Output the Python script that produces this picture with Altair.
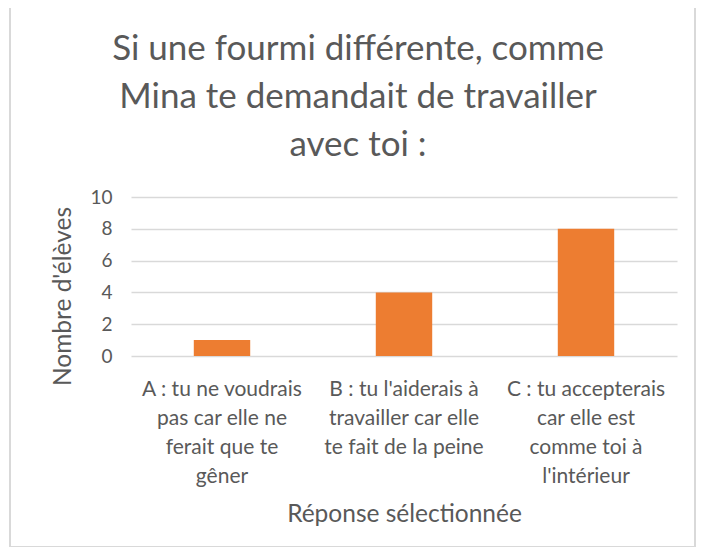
import altair as alt
import pandas as pd

categories = [
    "A : tu ne voudrais|pas car elle ne|ferait que te|gêner",
    "B : tu l'aiderais à|travailler car elle|te fait de la peine",
    "C : tu accepterais|car elle est|comme toi à|l'intérieur",
]
values = [1, 4, 8]
title_lines = ["Si une fourmi différente, comme", "Mina te demandait de travailler", "avec toi :"]
y_title = "Nombre d'élèves"
x_title = "Réponse sélectionnée"

df = pd.DataFrame({"cat": categories, "val": values})

FONT = "Lato"
GREY = "#595959"

bars = alt.Chart(df).mark_bar(color="#ED7D31").encode(
    x=alt.X(
        "cat:N",
        sort=categories,
        scale=alt.Scale(paddingInner=0.69, paddingOuter=0.345),
        axis=alt.Axis(
            title=x_title,
            labelAngle=0,
            labelExpr="split(datum.label, '|')",
            labelLineHeight=29,
            labelFontSize=21,
            labelColor=GREY,
            labelFont=FONT,
            labelPadding=22,
            ticks=False,
            domain=False,
            grid=False,
            titleFontSize=24.5,
            titleFontWeight="normal",
            titleColor=GREY,
            titleFont=FONT,
            titlePadding=16,
        ),
    ),
    y=alt.Y(
        "val:Q",
        scale=alt.Scale(domain=[0, 10]),
        axis=alt.Axis(
            title=y_title,
            values=[0, 2, 4, 6, 8, 10],
            labelFontSize=19,
            labelColor=GREY,
            labelFont=FONT,
            labelPadding=19,
            ticks=False,
            domain=False,
            gridColor="#D9D9D9",
            gridWidth=1.5,
            titleFontSize=24.5,
            titleFontWeight="normal",
            titleColor=GREY,
            titleFont=FONT,
            titlePadding=14,
            titleY=99,
        ),
    ),
)

frame = alt.Chart(df).mark_rect(fillOpacity=0, stroke="#D9D9D9", strokeWidth=1.5, clip=False).encode(
    x=alt.value(-121), x2=alt.value(564), y=alt.value(-190), y2=alt.value(350)
)

chart = alt.layer(frame, bars).properties(
    width=546,
    height=159,
    autosize=alt.AutoSizeParams(type="none"),
    padding={"left": 123, "top": 189, "right": 19, "bottom": 191},
    title=alt.TitleParams(
        text=title_lines,
        fontSize=35,
        lineHeight=48,
        font=FONT,
        fontWeight="normal",
        color=GREY,
        anchor="middle",
        dx=-46,
        offset=-157,
    ),
).configure(
    background="white",
    view=alt.ViewConfig(stroke="transparent", strokeWidth=0),
)

chart.save("out.html", embed_options={"renderer": "svg", "actions": False})
